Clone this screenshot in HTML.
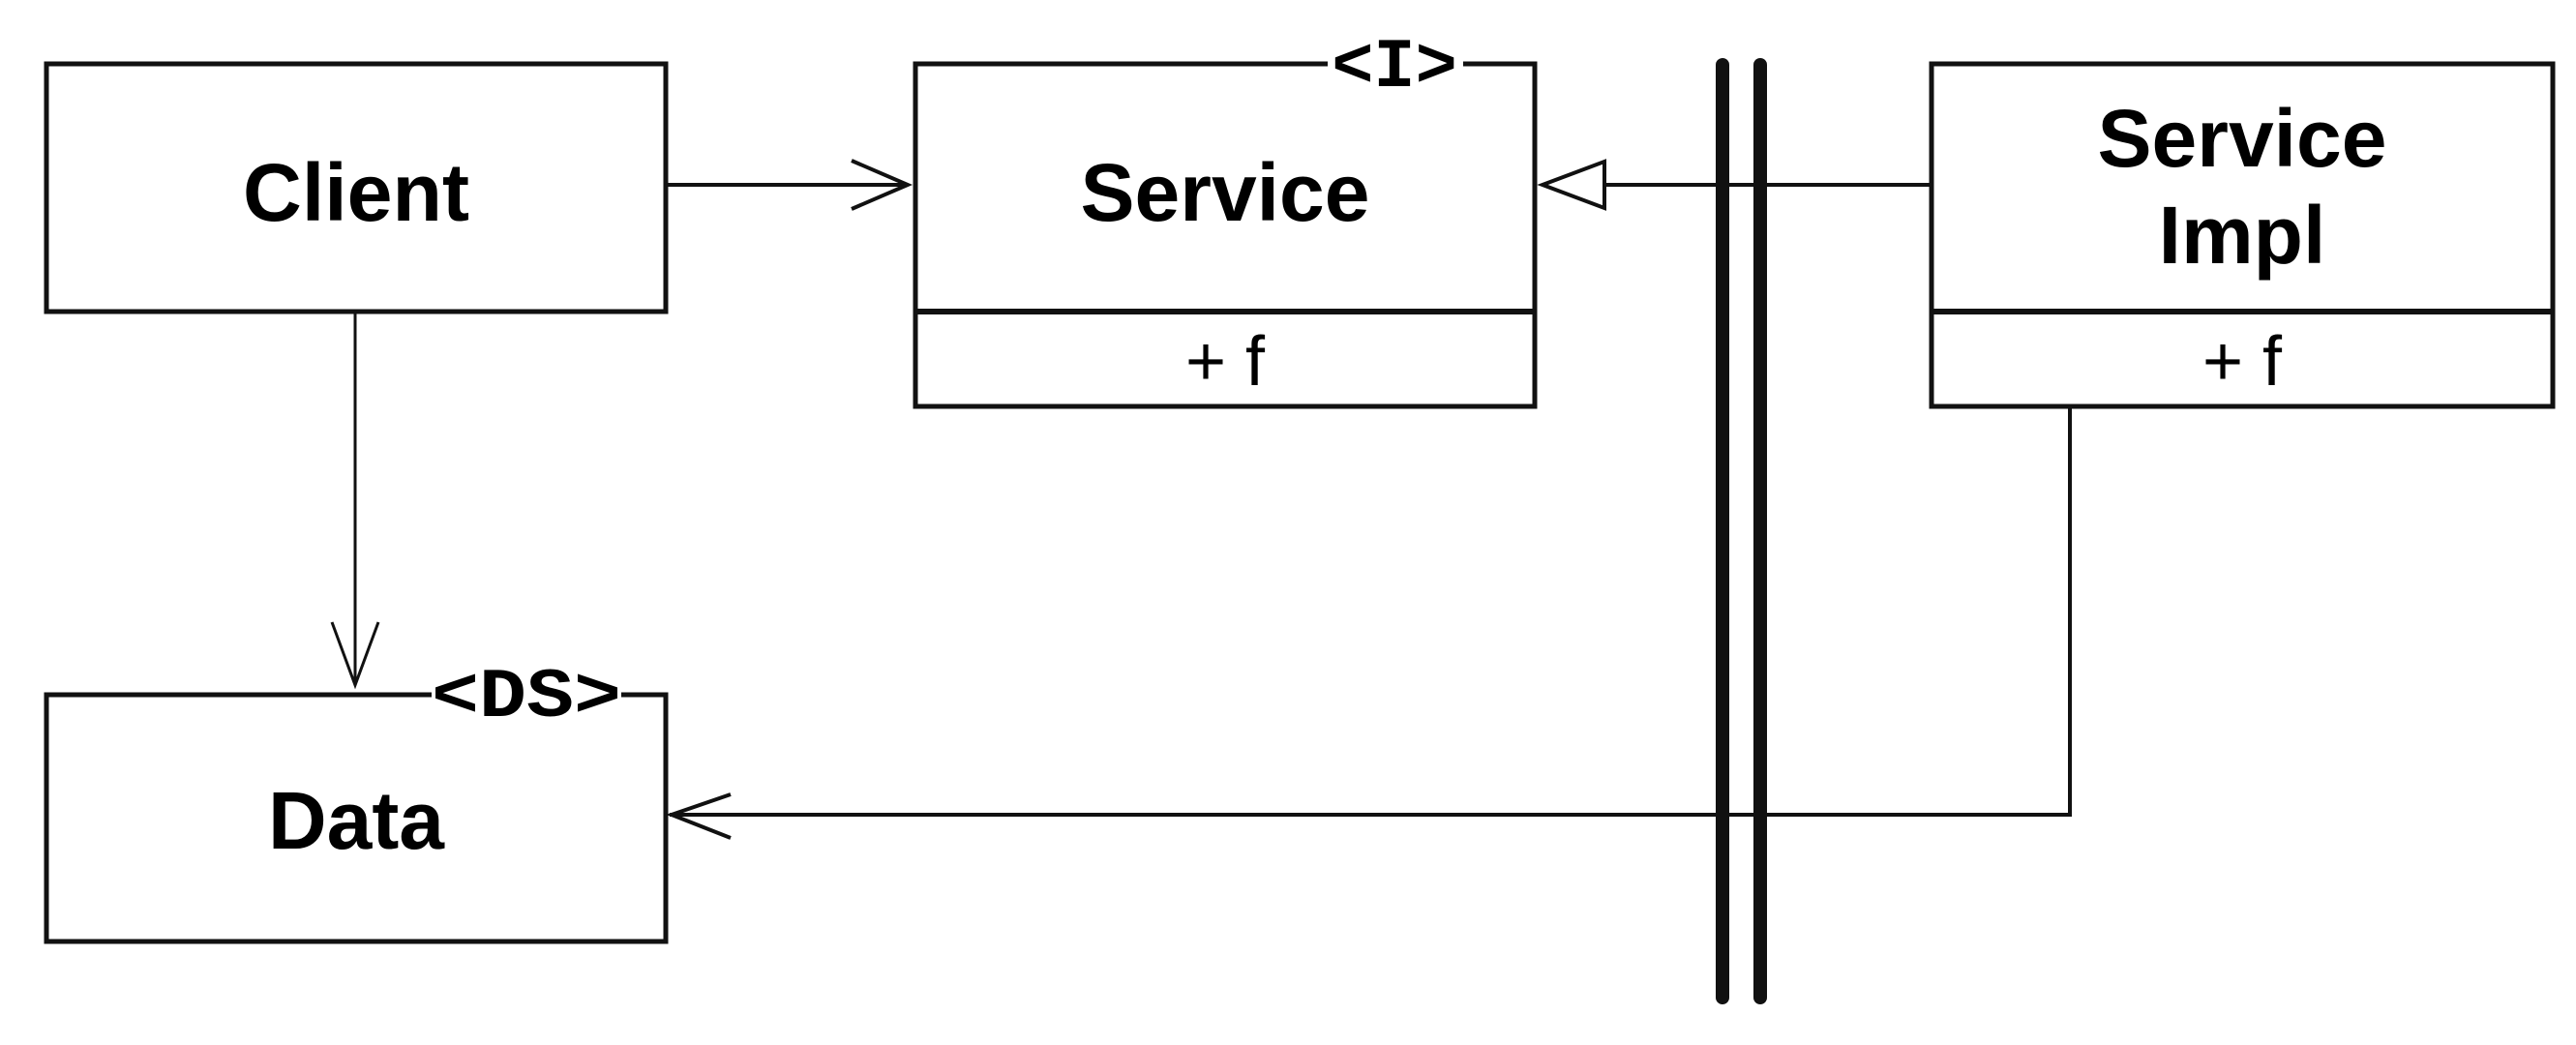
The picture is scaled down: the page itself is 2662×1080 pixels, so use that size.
<!DOCTYPE html>
<html><head><style>html,body{margin:0;padding:0;background:#fff;}svg{display:block}</style></head>
<body>
<svg width="2662" height="1080" viewBox="0 0 2662 1080" xmlns="http://www.w3.org/2000/svg">
<g fill="none" stroke="#111">
<!-- Client -->
<rect x="48" y="66" width="640" height="256" stroke-width="5"/>
<!-- Service -->
<rect x="946" y="66" width="640" height="354" stroke-width="5"/>
<line x1="946" y1="322" x2="1586" y2="322" stroke-width="6"/>
<!-- Service Impl -->
<rect x="1996" y="66" width="642" height="354" stroke-width="5"/>
<line x1="1996" y1="322" x2="2638" y2="322" stroke-width="6"/>
<!-- Data -->
<rect x="48" y="718" width="640" height="255" stroke-width="5"/>
<!-- connectors -->
<line x1="688" y1="191" x2="936" y2="191" stroke-width="4"/>
<polyline points="880,166 938,191 880,216" stroke-width="4"/>
<line x1="367" y1="322" x2="367" y2="708" stroke-width="3"/>
<polyline points="343,643 367,708 391,643" stroke-width="3"/>
<line x1="1658" y1="191" x2="1996" y2="191" stroke-width="4"/>
<polygon points="1594,191 1658,167 1658,215" stroke-width="4" fill="#fff"/>
<polyline points="2139,420 2139,842 692,842" stroke-width="4"/>
<polyline points="755,821 694,842 755,866" stroke-width="4"/>
<!-- bars -->
<line x1="1780" y1="67" x2="1780" y2="1031" stroke-width="14" stroke-linecap="round"/>
<line x1="1819" y1="67" x2="1819" y2="1031" stroke-width="14" stroke-linecap="round"/>
</g>
<rect x="1372" y="50" width="140" height="40" fill="#fff"/>
<rect x="446" y="700" width="196" height="40" fill="#fff"/>
<g font-family="Liberation Mono, monospace" font-weight="bold" fill="#000" text-anchor="middle">
<text x="1441" y="89" font-size="72">&lt;I&gt;</text>
<text x="544" y="740" font-size="72" textLength="196" lengthAdjust="spacingAndGlyphs">&lt;DS&gt;</text>
</g>
<g font-family="Liberation Sans, Arial, sans-serif" font-weight="bold" fill="#000" text-anchor="middle" font-size="84">
<text x="368" y="228" textLength="234" lengthAdjust="spacingAndGlyphs">Client</text>
<text x="1266" y="228">Service</text>
<text x="2317" y="172">Service</text>
<text x="2317" y="272">Impl</text>
<text x="368" y="877">Data</text>
</g>
<g font-family="Liberation Sans, Arial, sans-serif" fill="#000" text-anchor="middle" font-size="72">
<text x="1266" y="398">+ f</text>
<text x="2317" y="398">+ f</text>
</g>
</svg>
</body></html>
